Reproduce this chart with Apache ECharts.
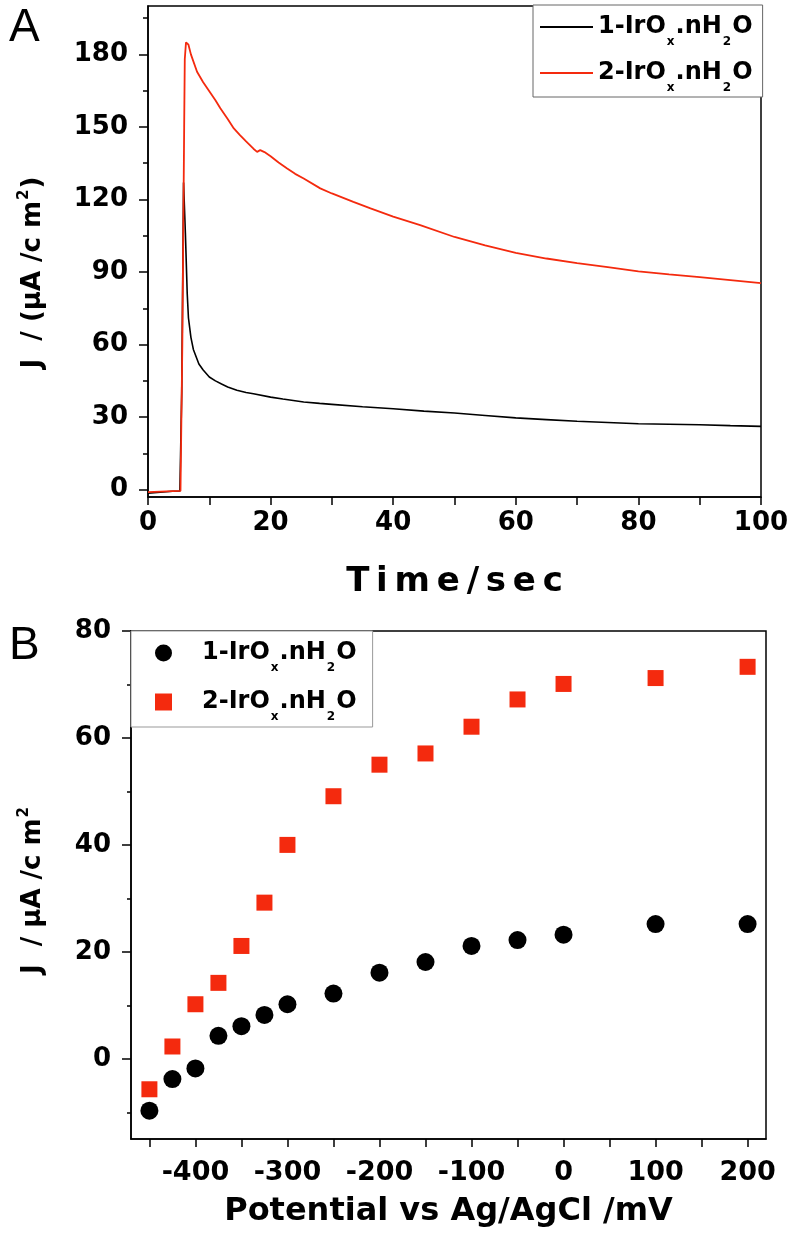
<!DOCTYPE html>
<html><head><meta charset="utf-8">
<script src="https://cdn.jsdelivr.net/npm/echarts@6/dist/echarts.min.js"></script>
<style>html,body{margin:0;padding:0;background:#fff}#c{width:794px;height:1236px}</style>
</head><body><div id="c"></div>
<script>
// ---------- Panel A data (chronoamperometry) ----------
const seriesLabels = ['1-IrOx.nH2O', '2-IrOx.nH2O'];
const timeBlack = [0, 1, 2, 3, 4, 5.2, 5.5, 5.8, 6.1, 6.4, 6.6, 7.0, 7.4, 8.3, 9, 10, 11, 12, 13, 14.5, 16, 17.2, 20, 22, 25.4, 28, 30, 35, 40, 45, 50, 55, 60, 65, 70, 75, 80, 85, 90, 95, 100];
const jBlack    = [-1.4, -1.2, -1.0, -0.8, -0.6, -0.5, 40, 127, 106, 81, 71, 63, 58, 52, 49.5, 46.6, 45, 43.7, 42.5, 41.1, 40.2, 39.7, 38.3, 37.5, 36.3, 35.7, 35.3, 34.3, 33.5, 32.5, 31.7, 30.7, 29.7, 29.0, 28.3, 27.8, 27.3, 27.1, 26.9, 26.5, 26.2];
const timeRed = [0, 2, 4, 5.3, 5.6, 5.9, 6.0, 6.2, 6.6, 7, 8, 9, 10, 11, 11.8, 13, 14, 15, 16, 17.2, 17.8, 18.3, 19, 20, 21.3, 22.7, 24, 25.4, 28.1, 30, 33.5, 36.3, 40, 44.4, 50, 55, 60, 65, 70, 75, 80, 85, 90, 95, 100];
const jRed    = [-1.0, -0.8, -0.6, -0.5, 60, 150, 178, 185, 184, 180, 172.8, 168.5, 164.8, 161, 157.7, 153.3, 149.4, 146.6, 144, 141, 139.7, 140.4, 139.6, 137.9, 135.3, 132.8, 130.6, 128.7, 124.6, 122.5, 119, 116.3, 112.9, 109.4, 104.5, 101, 97.9, 95.6, 93.7, 92, 90.3, 89, 87.9, 86.7, 85.4];
const timeTicks = [0, 10, 20, 30, 40, 50, 60, 70, 80, 90, 100];
const jTicksA = [0, 30, 60, 90, 120, 150, 180];
const jMinorA = [15, 45, 75, 105, 135, 165, 195];

// ---------- Panel B data (J vs potential) ----------
const potential = [-450, -425, -400, -375, -350, -325, -300, -250, -200, -150, -100, -50, 0, 100, 200];
const jCircle = [-9.7, -3.8, -1.8, 4.3, 6.1, 8.2, 10.2, 12.2, 16.1, 18.1, 21.1, 22.2, 23.2, 25.2, 25.2];
const jSquare = [-5.7, 2.3, 10.2, 14.2, 21.1, 29.2, 40.0, 49.1, 55.0, 57.1, 62.1, 67.2, 70.1, 71.2, 73.3];
const potentialLabels = [-400, -300, -200, -100, 0, 100, 200];
const potentialTicks = [-450, -400, -350, -300, -250, -200, -150, -100, -50, 0, 50, 100, 150, 200];
const jTicksB = [0, 20, 40, 60, 80];
const jMinorB = [-10, 10, 30, 50, 70];

const FONT = 'DejaVu Sans';
const RED = '#f42a0e';
const nameA = ['A:' + seriesLabels[0], 'A:' + seriesLabels[1]];
const nameB = ['B:' + seriesLabels[0], 'B:' + seriesLabels[1]];

function zip(a, b) { return a.map((v, i) => [v, b[i]]); }
function legendText(name) {
  const lab = name.slice(2);
  return '{n|' + lab.split('-')[0] + '-IrO}{s|x}{n|.nH}{s|2}{n|O}';
}
const legendRich = {
  g: { width: 25, fontSize: 12, lineHeight: 12 },
  n: { fontFamily: FONT, fontWeight: 'bold', fontSize: 24, color: '#000', lineHeight: 30, verticalAlign: 'middle' },
  s: { fontFamily: FONT, fontWeight: 'bold', fontSize: 12, color: '#000', lineHeight: 12, verticalAlign: 'middle', padding: [30, 1, 0, 1] }
};
const nameRich = {
  b: { fontFamily: FONT, fontWeight: 'bold', fontSize: 26, color: '#000', lineHeight: 30, verticalAlign: 'middle' },
  sup: { fontFamily: FONT, fontWeight: 'bold', fontSize: 15, color: '#000', lineHeight: 15, verticalAlign: 'middle', padding: [0, 1, 18, 1] }
};
const axisLineStyle = { show: true, onZero: false, lineStyle: { color: '#000', width: 1.5 } };
const labelStyle = (size, margin, values) => ({
  fontFamily: FONT, fontWeight: 'bold', fontSize: size, color: '#000', margin: margin,
  customValues: values
});

const chart = echarts.init(document.getElementById('c'), null, { renderer: 'canvas' });
chart.setOption({
  backgroundColor: '#fff',
  animation: false,
  title: [
    { text: 'A', left: 9, top: 5, padding: 0, textStyle: { fontFamily: 'Liberation Sans', fontWeight: 'normal', fontSize: 46, color: '#000' } },
    { text: 'B', left: 9, top: 623, padding: 0, textStyle: { fontFamily: 'Liberation Sans', fontWeight: 'normal', fontSize: 46, color: '#000' } }
  ],
  grid: [
    { left: 148, top: 6, width: 613, height: 491, show: true, borderColor: '#000', borderWidth: 1.5, backgroundColor: 'transparent' },
    { left: 131, top: 631, width: 635, height: 508, show: true, borderColor: '#000', borderWidth: 1.5, backgroundColor: 'transparent' }
  ],
  legend: [
    {
      data: [{ name: nameA[0], icon: 'rect' }, { name: nameA[1], icon: 'rect' }],
      orient: 'vertical', left: 533, top: 5, itemWidth: 53, itemHeight: 2, itemGap: 4,
      padding: [1, 10, 3, 7], borderColor: '#666', borderWidth: 1, backgroundColor: '#fff',
      formatter: legendText, textStyle: { rich: legendRich }, selectedMode: false
    },
    {
      data: [{ name: nameB[0], icon: 'circle' }, { name: nameB[1], icon: 'rect' }],
      orient: 'vertical', left: 131, top: 631, itemWidth: 17, itemHeight: 17, itemGap: 7,
      padding: [1, 16, 4, 24], borderColor: '#999', borderWidth: 1, backgroundColor: '#fff',
      formatter: (n) => '{g| }' + legendText(n), textStyle: { rich: legendRich }, selectedMode: false
    }
  ],
  xAxis: [
    {
      gridIndex: 0, type: 'value', min: 0, max: 100, interval: 20,
      axisLine: axisLineStyle,
      axisTick: { show: true, length: 8, lineStyle: { width: 1.5, color: '#000' }, customValues: timeTicks },
      axisLabel: labelStyle(26, 13),
      splitLine: { show: false },
      name: 'T\u2009i\u2009m\u2009e\u2009/\u2009s\u2009e\u2009c', nameLocation: 'middle', nameGap: 68,
      nameTextStyle: { fontFamily: FONT, fontWeight: 'bold', fontSize: 34, color: '#000' }
    },
    {
      gridIndex: 1, type: 'value', min: -470, max: 220,
      axisLine: axisLineStyle,
      axisTick: { show: true, length: 8, lineStyle: { width: 1.5, color: '#000' }, customValues: potentialTicks },
      axisLabel: labelStyle(27, 20, potentialLabels),
      splitLine: { show: false },
      name: 'Potential vs Ag/AgCl /mV', nameLocation: 'middle', nameGap: 57,
      nameTextStyle: { fontFamily: FONT, fontWeight: 'bold', fontSize: 32, color: '#000' }
    }
  ],
  yAxis: [
    {
      gridIndex: 0, type: 'value', min: -3, max: 200,
      axisLine: axisLineStyle,
      axisTick: { show: true, length: 9, lineStyle: { width: 1.5, color: '#000' }, customValues: jTicksA },
      axisLabel: labelStyle(26, 20, jTicksA),
      splitLine: { show: false },
      name: '{b|J  / (μA /c m}{sup|2}{b|)}', nameLocation: 'middle', nameGap: 100, nameRotate: 90,
      nameTextStyle: { padding: [0, 42, 0, 0], rich: nameRich }
    },
    {
      gridIndex: 0, type: 'value', min: -3, max: 200, position: 'left',
      axisLine: { show: false, onZero: false },
      axisTick: { show: true, length: 5, lineStyle: { width: 1.5, color: '#000' }, customValues: jMinorA },
      axisLabel: { show: false }, splitLine: { show: false }
    },
    {
      gridIndex: 1, type: 'value', min: -15, max: 80,
      axisLine: axisLineStyle,
      axisTick: { show: true, length: 9, lineStyle: { width: 1.5, color: '#000' }, customValues: jTicksB },
      axisLabel: labelStyle(26, 20, jTicksB),
      splitLine: { show: false },
      name: '{b|J  / μA /c m}{sup|2}', nameLocation: 'middle', nameGap: 83, nameRotate: 90,
      nameTextStyle: { padding: [0, 10, 0, 0], rich: nameRich }
    },
    {
      gridIndex: 1, type: 'value', min: -15, max: 80, position: 'left',
      axisLine: { show: false, onZero: false },
      axisTick: { show: true, length: 4, lineStyle: { width: 1.5, color: '#000' }, customValues: jMinorB },
      axisLabel: { show: false }, splitLine: { show: false }
    }
  ],
  series: [
    {
      name: nameA[0], type: 'line', xAxisIndex: 0, yAxisIndex: 0, data: zip(timeBlack, jBlack),
      showSymbol: false, symbol: 'none', color: '#000', lineStyle: { color: '#000', width: 1.6 }
    },
    {
      name: nameA[1], type: 'line', xAxisIndex: 0, yAxisIndex: 0, data: zip(timeRed, jRed),
      showSymbol: false, symbol: 'none', color: RED, lineStyle: { color: RED, width: 1.8 }
    },
    {
      name: nameB[0], type: 'scatter', xAxisIndex: 1, yAxisIndex: 2, data: zip(potential, jCircle),
      symbol: 'circle', symbolSize: 18, itemStyle: { color: '#000', opacity: 1 }
    },
    {
      name: nameB[1], type: 'scatter', xAxisIndex: 1, yAxisIndex: 2, data: zip(potential, jSquare),
      symbol: 'rect', symbolSize: 16, itemStyle: { color: RED, opacity: 1 }
    }
  ]
});
</script>
</body></html>
